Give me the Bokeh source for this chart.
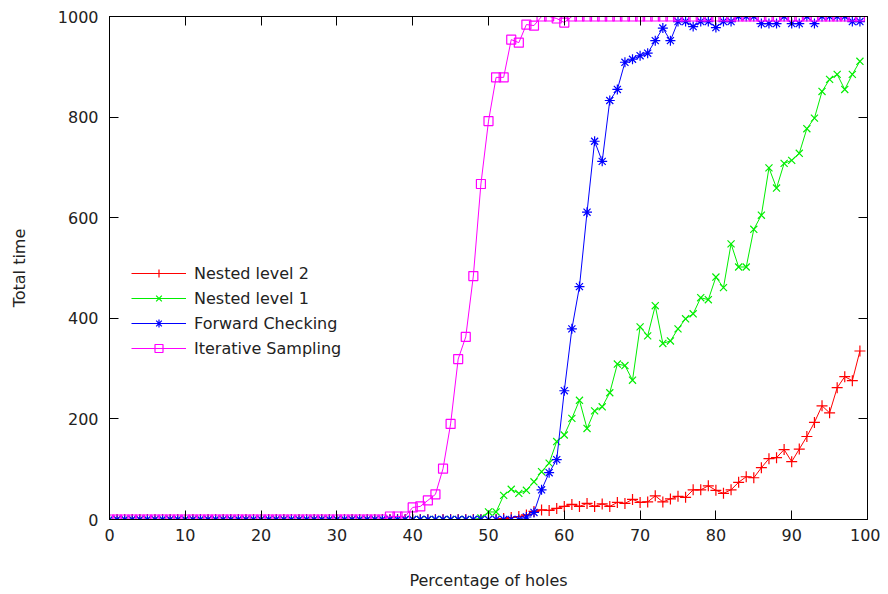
from bokeh.plotting import figure
from bokeh.models import Range1d, LinearAxis, FixedTicker, Legend, CustomJSTickFormatter
from bokeh.embed import file_html
from bokeh.resources import INLINE

x = list(range(100))

nested2 = [0] * 52 + [2, 4, 6, 9, 16, 19, 18, 22,
    26, 30, 26, 32, 26, 31, 26, 34, 32, 40,
    34, 35, 47, 35, 41, 46, 44, 59, 59, 67,
    58, 52, 59, 74, 85, 83, 103, 121, 123, 139,
    115, 140, 165, 193, 226, 212, 262, 284, 276, 335]

nested1 = [0] * 49 + [3, 15, 15, 48, 60, 52, 58, 75, 95, 112, 155,
    168, 201, 237, 181, 216, 224, 252, 309, 306, 277,
    383, 365, 425, 350, 355, 379, 399, 409, 441, 437,
    482, 461, 548, 502, 502, 577, 605, 699, 659, 708,
    714, 728, 777, 798, 851, 875, 885, 855, 885, 911]

forward = [0] * 55 + [5, 14, 59, 93, 119,
    256, 379, 463, 611, 752, 712, 833, 855, 909, 915,
    922, 927, 952, 977, 952, 990, 990, 980, 990, 990,
    978, 990, 990, 1000, 1000, 1000, 986, 986, 986, 1000,
    986, 986, 1000, 986, 1000, 1000, 1000, 1000, 990, 990]

iterative = [0] * 37 + [6, 6, 6,
    24, 26, 38, 50, 101, 190, 319, 363, 484, 667,
    792, 879, 879, 954, 948, 984, 982, 1000, 1000, 996,
    988] + [1000] * 39

x_ticks = [0, 10, 20, 30, 40, 50, 60, 70, 80, 90, 100]
y_ticks = [0, 200, 400, 600, 800, 1000]

series = [
    ("Nested level 2", nested2, "#ff0000", "cross", 11),
    ("Nested level 1", nested1, "#00ee00", "x", 10),
    ("Forward Checking", forward, "#0000ff", "asterisk", 10),
    ("Iterative Sampling", iterative, "#ff00ff", "square", 9),
]

FONT = "DejaVu Sans"
FS = "16px"

p = figure(width=880, height=592, output_backend="svg",
           toolbar_location=None, x_range=Range1d(0, 100), y_range=Range1d(0, 1000),
           min_border_left=109, min_border_top=16, min_border_right=13, min_border_bottom=72)
p.background_fill_color = "white"
p.border_fill_color = "white"
p.outline_line_color = "black"
p.outline_line_width = 1
p.grid.visible = False

p.xaxis.axis_label = "Percentage of holes"
p.yaxis.axis_label = "Total time"
p.xaxis.ticker = FixedTicker(ticks=x_ticks)
p.yaxis.ticker = FixedTicker(ticks=y_ticks)

for ax in [p.xaxis[0], p.yaxis[0]]:
    ax.major_tick_in = 9
    ax.major_tick_out = 0
    ax.minor_tick_line_color = None
    ax.axis_line_color = "black"
    ax.major_tick_line_color = "black"
    ax.major_label_text_font = FONT
    ax.major_label_text_font_size = FS
    ax.major_label_text_color = "#222222"
    ax.axis_label_text_font = FONT
    ax.axis_label_text_font_size = FS
    ax.axis_label_text_font_style = "normal"
    ax.axis_label_text_color = "#222222"
p.xaxis.major_label_standoff = 9
p.xaxis.axis_label_standoff = 27
p.yaxis.major_label_standoff = 11
p.yaxis.axis_label_standoff = 26

blank = CustomJSTickFormatter(code="return ''")
top = LinearAxis(ticker=FixedTicker(ticks=x_ticks), major_tick_in=9, major_tick_out=0,
                 minor_tick_line_color=None, formatter=blank,
                 major_label_standoff=0)
right = LinearAxis(ticker=FixedTicker(ticks=y_ticks), major_tick_in=9, major_tick_out=0,
                   minor_tick_line_color=None, formatter=blank,
                   major_label_standoff=0)
p.add_layout(top, "above")
p.add_layout(right, "right")

items = []
for name, ys, color, marker, size in series:
    r1 = p.line(x, ys, line_color=color, line_width=1)
    r2 = p.scatter(x, ys, marker=marker, size=size, line_color=color,
                   fill_color=None, line_width=1.2)
    items.append((name, [r1, r2]))

legend = Legend(items=items, location=(22, 161), glyph_width=55, glyph_height=20,
                label_height=20, spacing=5, padding=0, margin=0, label_standoff=8,
                border_line_color=None, background_fill_alpha=0,
                label_text_font=FONT, label_text_font_size=FS,
                label_text_color="#222222")
p.add_layout(legend, "center")

open("out.html", "w").write(file_html(p, INLINE))
